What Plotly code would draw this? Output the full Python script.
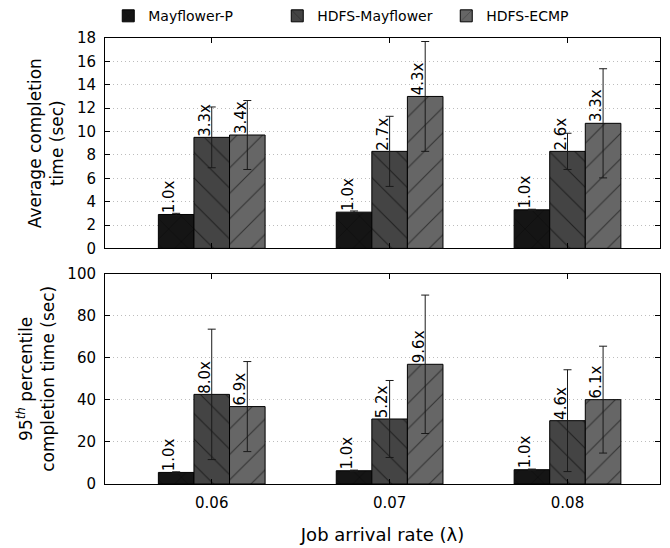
import plotly.graph_objects as go
from plotly.subplots import make_subplots

categories = ["0.06", "0.07", "0.08"]
series_names = ["Mayflower-P", "HDFS-Mayflower", "HDFS-ECMP"]

avg_mp = [2.9, 3.1, 3.3]
avg_mp_err = [0.1, 0.1, 0.05]
avg_hm = [9.5, 8.3, 8.3]
avg_hm_err = [2.6, 3.0, 1.55]
avg_he = [9.7, 13.0, 10.7]
avg_he_err = [2.95, 4.7, 4.67]

p95_mp = [5.5, 6.3, 6.8]
p95_mp_err = [0.3, 0.3, 0.3]
p95_hm = [42.6, 30.9, 30.1]
p95_hm_err = [31.0, 18.3, 24.2]
p95_he = [36.8, 56.9, 40.1]
p95_he_err = [21.4, 32.9, 25.4]

avg_labels = [["1.0x", "1.0x", "1.0x"], ["3.3x", "2.7x", "2.6x"], ["3.4x", "4.3x", "3.3x"]]
p95_labels = [["1.0x", "1.0x", "1.0x"], ["8.0x", "5.2x", "4.6x"], ["6.9x", "9.6x", "6.1x"]]

colors = ["#151515", "#444444", "#666666"]
shapes = ["x", "\\", "/"]

FONT = "DejaVu Sans"
xs = list(range(len(categories)))

fig = make_subplots(rows=2, cols=1, vertical_spacing=0.0566)

avg_vals = [avg_mp, avg_hm, avg_he]
avg_errs = [avg_mp_err, avg_hm_err, avg_he_err]
p95_vals = [p95_mp, p95_hm, p95_he]
p95_errs = [p95_mp_err, p95_hm_err, p95_he_err]

for i, name in enumerate(series_names):
    for row, vals, errs in ((1, avg_vals, avg_errs), (2, p95_vals, p95_errs)):
        fig.add_trace(go.Bar(
            x=xs, y=vals[i], name=name, showlegend=(row == 1),
            legendgroup=name,
            marker=dict(color=colors[i], line=dict(color="#000000", width=1),
                        pattern=dict(shape=shapes[i], fgcolor="#000000",
                                     bgcolor=colors[i],
                                     size=18, solidity=0.06)),
            error_y=dict(type="data", array=errs[i], visible=True,
                         color="#1a1a1a", thickness=1, width=4),
        ), row=row, col=1)

annotations = []
offsets = [-0.2, 0.0, 0.2]
for row, vals, labels in ((1, avg_vals, avg_labels), (2, p95_vals, p95_labels)):
    xr = "x" if row == 1 else "x2"
    yr = "y" if row == 1 else "y2"
    for i in range(3):
        for j in xs:
            annotations.append(dict(
                x=j + offsets[i] - 0.1, y=vals[i][j], xref=xr, yref=yr,
                text=labels[i][j], showarrow=False, textangle=-90,
                xanchor="left", yanchor="bottom", xshift=1, borderpad=0,
                font=dict(family=FONT, size=15, color="#000000")))

fig.update_layout(
    width=670, height=548,
    margin=dict(l=97, r=18, t=30, b=72, autoexpand=False),
    paper_bgcolor="white", plot_bgcolor="white",
    barmode="group", bargap=0.4, bargroupgap=0,
    font=dict(family=FONT, size=15, color="#000000"),
    legend=dict(orientation="h", x=0.528, xref="container", xanchor="center",
                y=0.985, yref="container", yanchor="middle",
                font=dict(family=FONT, size=14), itemwidth=30,
                entrywidth=124, entrywidthmode="pixels",
                bgcolor="rgba(0,0,0,0)"),
    annotations=annotations,
)

axis_common = dict(showline=True, linecolor="#000000", linewidth=1, mirror="ticks",
                   ticks="inside", ticklen=5, tickcolor="#000000", automargin=False)

fig.update_xaxes(range=[-0.6, 2.52], tickvals=xs, ticktext=categories,
                 showgrid=False, zeroline=False, **axis_common)
fig.update_xaxes(showticklabels=False, row=1, col=1)
fig.update_xaxes(title=dict(text="Job arrival rate (\u03bb)", font=dict(size=18), standoff=17),
                 tickfont=dict(size=15), ticklabelstandoff=5, row=2, col=1)

fig.update_yaxes(showgrid=True, gridcolor="#bdbdbd", griddash="1px,3px", gridwidth=1,
                 zeroline=False, tickfont=dict(size=15), ticklabelstandoff=5, **axis_common)
fig.update_yaxes(range=[0, 18], dtick=2, row=1, col=1,
                 title=dict(text="Average completion<br>time (sec)", font=dict(size=17), standoff=8))
fig.update_yaxes(range=[0, 100], dtick=20, row=2, col=1,
                 title=dict(text="95<sup><i>th</i></sup> percentile<br>completion time (sec)",
                            font=dict(size=17), standoff=8))

fig.write_html("out.html")
